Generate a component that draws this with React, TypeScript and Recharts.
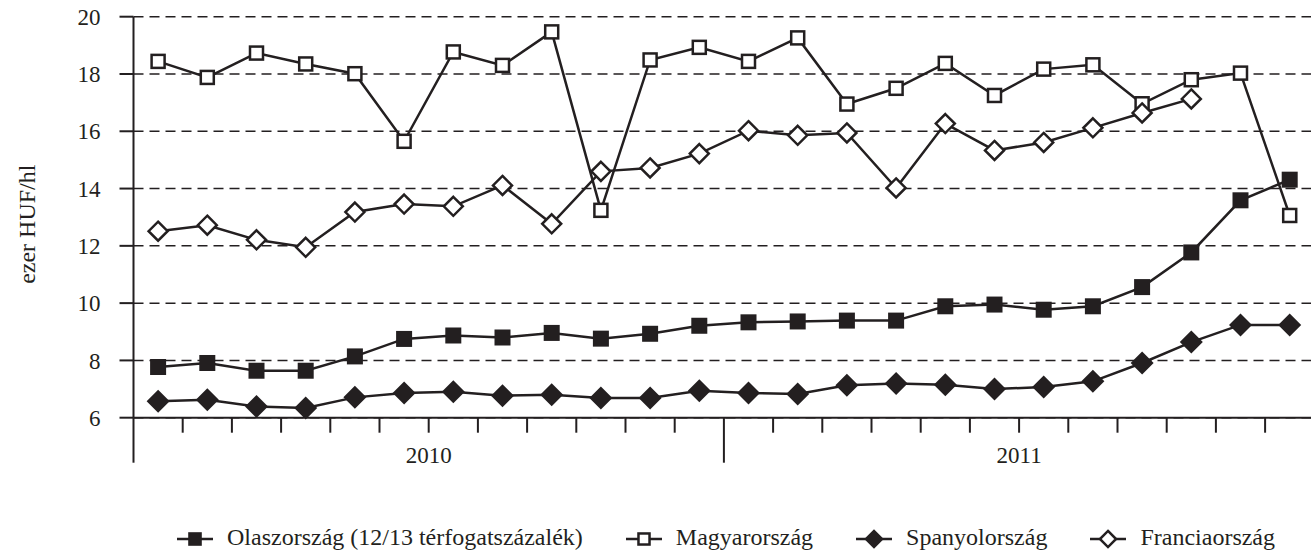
import { LineChart, Line, XAxis, YAxis, CartesianGrid, Legend } from 'recharts'

const INK = '#231f20'
const FONT = '"Liberation Serif", "Times New Roman", serif'

// havi adatok, 2010-01 .. 2011-12
const months = [
  '2010-01', '2010-02', '2010-03', '2010-04', '2010-05', '2010-06',
  '2010-07', '2010-08', '2010-09', '2010-10', '2010-11', '2010-12',
  '2011-01', '2011-02', '2011-03', '2011-04', '2011-05', '2011-06',
  '2011-07', '2011-08', '2011-09', '2011-10', '2011-11', '2011-12',
]
const years = ['2010', '2011']

const italy = [7.77, 7.91, 7.64, 7.64, 8.14, 8.75, 8.87, 8.80, 8.96, 8.76, 8.93, 9.21,
  9.33, 9.36, 9.39, 9.39, 9.89, 9.95, 9.77, 9.89, 10.56, 11.77, 13.59, 14.31]
const hungary = [18.44, 17.88, 18.73, 18.35, 18.01, 15.65, 18.77, 18.30, 19.47, 13.24, 18.49, 18.93,
  18.44, 19.26, 16.95, 17.50, 18.37, 17.25, 18.17, 18.32, 16.96, 17.80, 18.03, 13.06]
const spain = [6.57, 6.63, 6.39, 6.34, 6.71, 6.86, 6.91, 6.77, 6.80, 6.69, 6.69, 6.94,
  6.86, 6.83, 7.13, 7.19, 7.15, 7.00, 7.07, 7.27, 7.91, 8.64, 9.24, 9.24]
const france: (number | null)[] = [12.51, 12.72, 12.21, 11.95, 13.18, 13.46, 13.38, 14.11, 12.77, 14.60, 14.72, 15.22,
  16.02, 15.86, 15.94, 14.02, 16.27, 15.33, 15.61, 16.12, 16.64, 17.13, null, null]

const yTicks = [6, 8, 10, 12, 14, 16, 18, 20]
// hónaphatárok (0..24)
const monthEdges = Array.from({ length: months.length + 1 }, (_, i) => i)

const series = [
  { key: 'italy', name: 'Olaszország (12/13 térfogatszázalék)', shape: 'square', filled: true },
  { key: 'hungary', name: 'Magyarország', shape: 'square', filled: false },
  { key: 'spain', name: 'Spanyolország', shape: 'diamond', filled: true },
  { key: 'france', name: 'Franciaország', shape: 'diamond', filled: false },
]

const data = months.map((m, i) => ({
  month: m,
  x: i + 0.5,
  italy: italy[i],
  hungary: hungary[i],
  spain: spain[i],
  france: france[i],
}))

function Marker({ cx, cy, shape, filled, scale = 1 }: { cx: number; cy: number; shape: string; filled: boolean; scale?: number }) {
  if (shape === 'square') {
    const s = (filled ? 16 : 13) * scale
    return (
      <rect
        x={cx - s / 2} y={cy - s / 2} width={s} height={s}
        fill={filled ? INK : '#fff'} stroke={INK} strokeWidth={filled ? 0 : 2.5}
      />
    )
  }
  const r = (filled ? 11.5 : 9.5) * scale
  return (
    <polygon
      points={`${cx},${cy - r} ${cx + r},${cy} ${cx},${cy + r} ${cx - r},${cy}`}
      fill={filled ? INK : '#fff'} stroke={INK} strokeWidth={filled ? 0 : 2.5} strokeLinejoin="miter"
    />
  )
}

const makeDot = (shape: string, filled: boolean) => (props: any) => {
  const { cx, cy, index } = props
  if (cx == null || cy == null || props.value == null) return <g key={`e-${index}`} />
  return <Marker key={`d-${index}`} cx={cx} cy={cy} shape={shape} filled={filled} />
}

function MonthTick(props: any) {
  const { x, y, payload } = props
  const v = payload.value as number
  const edge = v % 12 === 0
  const mid = v % 12 === 6
  return (
    <g>
      <line x1={x} x2={x} y1={y} y2={y + (edge ? 45 : 15)} stroke={INK} strokeWidth={2} />
      {mid && (
        <text x={x} y={y + 45} textAnchor="middle" fontFamily={FONT} fontSize={23} fill={INK}>
          {years[(v - 6) / 12]}
        </text>
      )}
    </g>
  )
}

function YTitle(props: any) {
  const { viewBox } = props
  const cy = viewBox.y + viewBox.height / 2 + 7
  const cx = 27
  return (
    <text
      x={cx} y={cy} transform={`rotate(-90 ${cx} ${cy})`}
      textAnchor="middle" dominantBaseline="central"
      fontFamily={FONT} fontSize={24} fill={INK}
    >
      ezer HUF/hl
    </text>
  )
}

function LegendBox() {
  return (
    <div style={{ display: 'flex', alignItems: 'center', height: 30, paddingLeft: 177, gap: 43, fontFamily: FONT, fontSize: 24, lineHeight: '30px', color: INK }}>
      {series.map(s => (
        <div key={s.key} style={{ display: 'flex', alignItems: 'center' }}>
          <svg width={36} height={30} style={{ display: 'block' }}>
            <line x1={0} x2={36} y1={17} y2={17} stroke={INK} strokeWidth={2.5} />
            <Marker cx={18} cy={17} shape={s.shape} filled={s.filled} scale={0.85} />
          </svg>
          <span style={{ marginLeft: 14, whiteSpace: 'nowrap' }}>{s.name}</span>
        </div>
      ))}
    </div>
  )
}

export default function App() {
  return (
    <div style={{ position: 'absolute', left: 0, top: 0, width: 1311, height: 552, overflow: 'hidden', background: '#fff' }}>
      <LineChart
        width={1320}
        height={552}
        data={data}
        margin={{ top: 16.7, right: 5.7, left: 0, bottom: 0 }}
      >
        <CartesianGrid vertical={false} stroke={INK} strokeWidth={1.5} strokeDasharray="10 6" />
        <XAxis
          dataKey="x"
          type="number"
          domain={[0, 24]}
          ticks={monthEdges}
          interval={0}
          tick={<MonthTick />}
          tickLine={false}
          tickSize={0}
          tickMargin={0}
          height={104.3}
          axisLine={{ stroke: INK, strokeWidth: 2 }}
        />
        <YAxis
          type="number"
          domain={[6, 20]}
          ticks={yTicks}
          interval={0}
          width={133.5}
          tickSize={14}
          tickMargin={19}
          tick={{ fontFamily: FONT, fontSize: 23, fill: INK }}
          tickLine={{ stroke: INK, strokeWidth: 2 }}
          axisLine={{ stroke: INK, strokeWidth: 2 }}
          label={<YTitle />}
        />
        <Legend
          verticalAlign="bottom"
          content={<LegendBox />}
          wrapperStyle={{ left: 0, width: 1320, height: 30 }}
        />
        {series.map(s => (
          <Line
            key={s.key}
            dataKey={s.key}
            name={s.name}
            stroke={INK}
            strokeWidth={2.5}
            dot={makeDot(s.shape, s.filled)}
            activeDot={false}
            isAnimationActive={false}
          />
        ))}
      </LineChart>
    </div>
  )
}
